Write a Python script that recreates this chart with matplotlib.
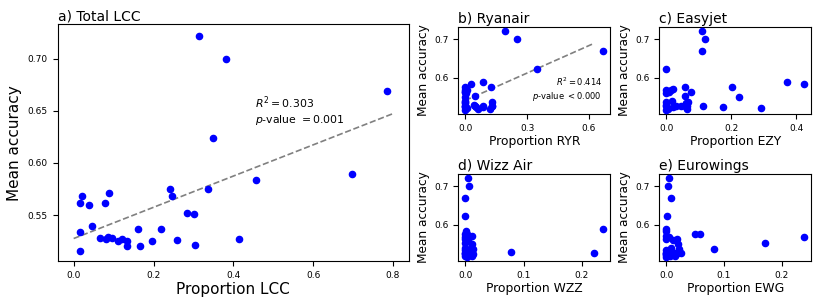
import numpy as np
import matplotlib
matplotlib.use("Agg")
import matplotlib.pyplot as plt

# mean accuracy per country (shared by all panels)
accuracy = [0.722, 0.700, 0.669, 0.624, 0.589, 0.584, 0.575, 0.575, 0.571, 0.568,
            0.568, 0.562, 0.562, 0.560, 0.552, 0.551, 0.540, 0.537, 0.537, 0.534,
            0.529, 0.528, 0.528, 0.527, 0.527, 0.527, 0.526, 0.525, 0.525, 0.525,
            0.521, 0.520, 0.520, 0.516]

# proportion of flights by low cost carriers
prop_lcc = [0.314, 0.381, 0.786, 0.348, 0.698, 0.456, 0.242, 0.337, 0.088, 0.020,
            0.247, 0.015, 0.078, 0.038, 0.285, 0.301, 0.045, 0.162, 0.218, 0.015,
            0.087, 0.066, 0.096, 0.080, 0.121, 0.413, 0.260, 0.111, 0.134, 0.197,
            0.305, 0.133, 0.166, 0.015]
prop_ryr = [0.191, 0.249, 0.670, 0.346, 0.086, 0.026, 0.125, 0.000, 0.003, 0.008,
            0.000, 0.000, 0.000, 0.002, 0.045, 0.000, 0.000, 0.000, 0.128, 0.000,
            0.040, 0.000, 0.085, 0.045, 0.130, 0.000, 0.130, 0.050, 0.085, 0.000,
            0.010, 0.060, 0.120, 0.000]
prop_ezy = [0.110, 0.120, 0.109, 0.000, 0.373, 0.425, 0.059, 0.203, 0.022, 0.000,
            0.015, 0.009, 0.077, 0.000, 0.059, 0.224, 0.017, 0.000, 0.068, 0.061,
            0.000, 0.030, 0.060, 0.045, 0.065, 0.114, 0.000, 0.020, 0.060, 0.175,
            0.292, 0.005, 0.065, 0.000]
prop_wzz = [0.005, 0.006, 0.000, 0.000, 0.237, 0.001, 0.000, 0.003, 0.011, 0.000,
            0.002, 0.000, 0.001, 0.004, 0.000, 0.012, 0.000, 0.008, 0.013, 0.000,
            0.079, 0.003, 0.012, 0.000, 0.005, 0.221, 0.000, 0.013, 0.002, 0.000,
            0.005, 0.012, 0.000, 0.003]
prop_ewg = [0.005, 0.003, 0.009, 0.001, 0.000, 0.000, 0.058, 0.050, 0.000, 0.005,
            0.239, 0.018, 0.000, 0.012, 0.171, 0.020, 0.008, 0.082, 0.022, 0.000,
            0.005, 0.015, 0.000, 0.010, 0.020, 0.000, 0.025, 0.000, 0.010, 0.003,
            0.000, 0.015, 0.006, 0.000]

ylims = (0.506, 0.733)

fig = plt.figure(figsize=(8.22, 3.08), dpi=100)

# a) main panel
ax = fig.add_axes([0.0702, 0.1526, 0.4274, 0.7684])
ax.scatter(prop_lcc, accuracy, s=20, color="blue", zorder=3)
k, b = np.polyfit(prop_lcc, accuracy, 1)
xs = np.linspace(0, 0.8, 10)
ax.plot(xs, k * xs + b, "--", color="gray", linewidth=1.2)
ax.text(0.561, 0.568, "$R^2 = 0.303$\n$p$-value $= 0.001$", transform=ax.transAxes,
        fontsize=7.8, va="bottom", ha="left")
ax.set_title("a) Total LCC", loc="left", fontsize=10, pad=3)
ax.set_xlabel("Proportion LCC", fontsize=11, labelpad=2)
ax.set_ylabel("Mean accuracy", fontsize=11, labelpad=4)
ax.set_xticks([0.0, 0.2, 0.4, 0.6, 0.8])
ax.set_yticks([0.55, 0.60, 0.65, 0.70])
ax.set_ylim(ylims)
ax.tick_params(labelsize=6.5)

# small panels
panels = [
    ("b) Ryanair", "Proportion RYR", prop_ryr, [0.0, 0.3, 0.6], [0.5576, 0.6299]),
    ("c) Easyjet", "Proportion EZY", prop_ezy, [0.0, 0.2, 0.4], [0.8021, 0.6299]),
    ("d) Wizz Air", "Proportion WZZ", prop_wzz, [0.0, 0.1, 0.2], [0.5576, 0.1526]),
    ("e) Eurowings", "Proportion EWG", prop_ewg, [0.0, 0.1, 0.2], [0.8021, 0.1526]),
]
for title, xlab, xvals, xt, pos in panels:
    a = fig.add_axes([pos[0], pos[1], 0.1849, 0.2834])
    a.scatter(xvals, accuracy, s=20, color="blue", zorder=3)
    if title.startswith("b"):
        k, b = np.polyfit(xvals, accuracy, 1)
        xs = np.linspace(0, 0.62, 10)
        a.plot(xs, k * xs + b, "--", color="gray", linewidth=1.2)
        a.text(0.945, 0.13, "$R^2 = 0.414$\n$p$-value $< 0.000$", transform=a.transAxes,
               fontsize=6, va="bottom", ha="right", multialignment="right")
    a.set_title(title, loc="left", fontsize=10, pad=3)
    a.set_xlabel(xlab, fontsize=8.9, labelpad=2)
    a.set_ylabel("Mean accuracy", fontsize=8.7, labelpad=3)
    a.set_xticks(xt)
    a.set_yticks([0.6, 0.7])
    a.set_ylim(ylims)
    a.tick_params(labelsize=6.5)

fig.savefig("out.png", dpi=100)
